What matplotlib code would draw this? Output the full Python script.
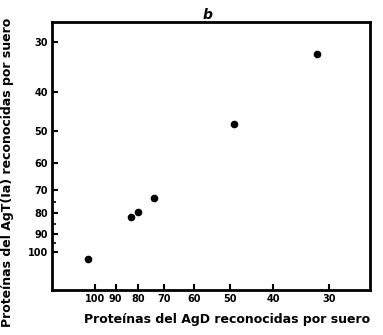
import matplotlib
matplotlib.use("Agg")
import matplotlib.pyplot as plt
from matplotlib.ticker import FixedLocator, NullFormatter, NullLocator

# proteins recognised per serum: AgD (x) vs AgT(Ia) (y)
agd = [32, 49, 74, 80, 83, 104]
agt = [32, 48, 73.5, 79.5, 82, 104]

xticks = [100, 90, 80, 70, 60, 50, 40, 30]
yticks = [30, 40, 50, 60, 70, 80, 90, 100]
yminor = [75, 85, 95]

plt.rcParams['font.family'] = 'DejaVu Sans'
plt.rcParams['font.weight'] = 'bold'

fig = plt.figure(figsize=(3.83, 3.35), dpi=100)
ax = fig.add_axes([0.136, 0.134, 0.830, 0.800])

ax.plot(agd, agt, 'o', color='black', markersize=5.5, markeredgewidth=0)

ax.set_xscale('log')
ax.set_yscale('log')
ax.set_xlim(124.8, 24.3)
ax.set_ylim(124.5, 26.7)

ax.xaxis.set_major_locator(FixedLocator(xticks))
ax.yaxis.set_major_locator(FixedLocator(yticks))
ax.xaxis.set_minor_locator(NullLocator())
ax.yaxis.set_minor_locator(FixedLocator(yminor))
ax.xaxis.set_minor_formatter(NullFormatter())
ax.yaxis.set_minor_formatter(NullFormatter())
ax.set_xticklabels([str(t) for t in xticks])
ax.set_yticklabels([str(t) for t in yticks])

ax.tick_params(axis='both', which='major', direction='in', length=4, width=1.5,
               labelsize=7, pad=3, top=False, right=False)
ax.tick_params(axis='y', which='minor', direction='in', length=3, width=1.2)
for lab in ax.get_xticklabels() + ax.get_yticklabels():
    lab.set_fontweight('bold')

for side in ['left', 'bottom', 'top', 'right']:
    ax.spines[side].set_linewidth(2)

ax.set_xlabel('Proteínas del AgD reconocidas por suero', fontsize=9,
              fontweight='bold', labelpad=6, x=0.55)
ax.set_ylabel('Proteínas del AgT(Ia) reconocidas por suero', fontsize=9,
              fontweight='bold', labelpad=10, y=0.44)
ax.set_title('b', fontsize=10, fontweight='bold', style='italic', pad=2, x=0.49)

fig.savefig('out.png', dpi=100)
